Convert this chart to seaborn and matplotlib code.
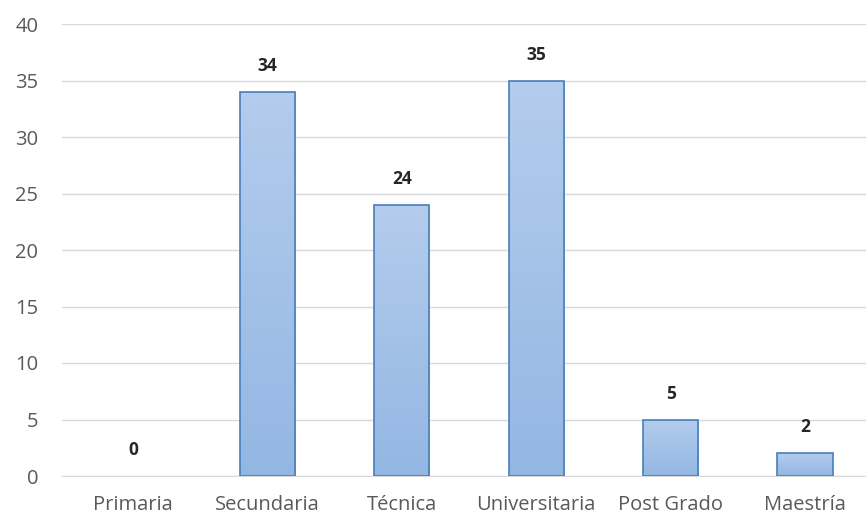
import numpy as np
import pandas as pd
import matplotlib
matplotlib.use("Agg")
import matplotlib.pyplot as plt
import seaborn as sns
from matplotlib.colors import LinearSegmentedColormap

# data
categories = ['Primaria', 'Secundaria', 'Técnica', 'Universitaria', 'Post Grado', 'Maestría']
counts = [0, 34, 24, 35, 5, 2]

df = pd.DataFrame({'nivel': categories, 'n': counts})

sns.set_style("white")
plt.rcParams['font.family'] = ['Open Sans', 'DejaVu Sans']

fig = plt.figure(figsize=(8.66, 5.21), dpi=100)
ax = fig.add_axes([62 / 866, 45 / 521, 804 / 866, 452 / 521])

sns.barplot(data=df, x='nivel', y='n', ax=ax, width=0.41,
            color='#a7c3e6', edgecolor='#4a7ebb', linewidth=1.2, zorder=3)

ax.set_ylim(0, 40)
ax.set_xlim(-0.528, 5.454)
ax.set_yticks(range(0, 41, 5))
ax.yaxis.grid(True, color='#d9d9d9', linewidth=1)
ax.set_axisbelow(True)
for s in ['top', 'right', 'left']:
    ax.spines[s].set_visible(False)
ax.spines['bottom'].set_color('#d9d9d9')
ax.tick_params(axis='both', length=0, labelsize=14.5, colors='#595959')
ax.tick_params(axis='y', pad=17)
ax.tick_params(axis='x', pad=14)
ax.set_xlabel('')
ax.set_ylabel('')

# soft gradient fill inside each bar
cmap = LinearSegmentedColormap.from_list('g', ['#93b7e3', '#b4cced'])
grad = np.linspace(0, 1, 256).reshape(-1, 1)
for p in ax.patches:
    h = p.get_height()
    if h <= 0:
        p.set_visible(False)
        continue
    x0 = p.get_x()
    w = p.get_width()
    im = ax.imshow(grad, extent=[x0, x0 + w, 0, h], origin='lower', cmap=cmap,
                   aspect='auto', zorder=3.5)
    im.set_clip_path(p)
    p.set_facecolor('none')
    p.set_zorder(4)

ax.set_xlim(-0.528, 5.454)
ax.set_ylim(0, 40)

for i, v in enumerate(counts):
    ax.text(i, v + 2.3, str(v), ha='center', va='center', fontsize=12.5,
            fontweight='bold', color='#262626')

fig.savefig('out.png', dpi=100)
